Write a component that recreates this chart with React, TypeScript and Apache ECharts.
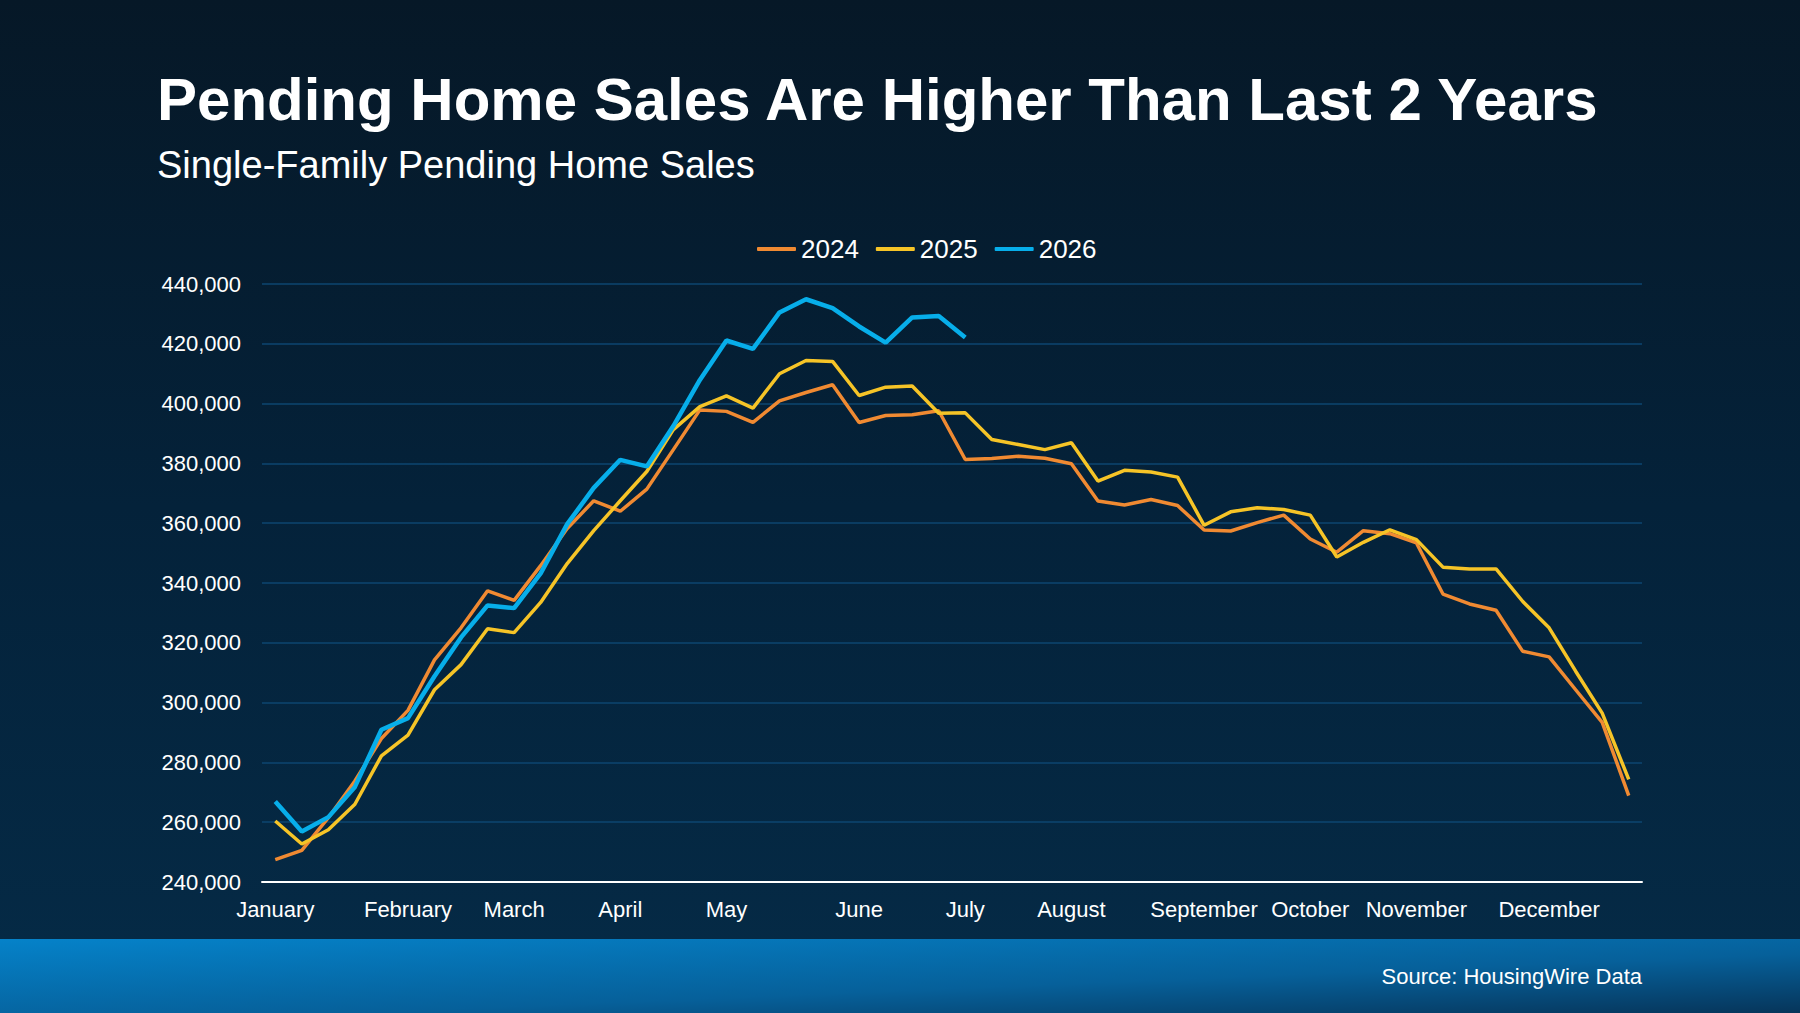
import { useEffect, useRef } from 'react'
import * as echarts from 'echarts'

// weekly points, one per category
const weeks = [
    'W1', 'W2', 'W3', 'W4', 'W5', 'W6', 'W7', 'W8', 'W9', 'W10', 'W11', 'W12', 'W13',
    'W14', 'W15', 'W16', 'W17', 'W18', 'W19', 'W20', 'W21', 'W22', 'W23', 'W24', 'W25', 'W26',
    'W27', 'W28', 'W29', 'W30', 'W31', 'W32', 'W33', 'W34', 'W35', 'W36', 'W37', 'W38', 'W39',
    'W40', 'W41', 'W42', 'W43', 'W44', 'W45', 'W46', 'W47', 'W48', 'W49', 'W50', 'W51', 'W52'
]

// month names shown under the week they start
const monthTicks: Record<number, string> = {
    0: 'January', 5: 'February', 9: 'March', 13: 'April', 17: 'May', 22: 'June',
    26: 'July', 30: 'August', 35: 'September', 39: 'October', 43: 'November', 48: 'December'
}

const sales2024 = [
    247500, 250600, 261500, 273800, 288000, 297400, 314300, 325000, 337400, 334200, 345800, 358200, 367500,
    364000, 371400, 384600, 397900, 397400, 393700, 400900, 403700, 406300, 393700, 396000, 396300, 397600,
    381300, 381600, 382400, 381700, 379900, 367400, 366100, 367900, 365900, 357700, 357400, 360200, 362700,
    354700, 350300, 357500, 356500, 353400, 336300, 333000, 330900, 317200, 315300, 304300, 293400, 268900
]

const sales2025 = [
    260400, 252700, 257500, 266000, 282200, 289100, 304300, 312700, 324700, 323400, 333500, 346500, 357500,
    367500, 377300, 391300, 399000, 402600, 398500, 410000, 414400, 414100, 402700, 405500, 405900, 396800,
    396900, 388000, 386300, 384600, 386900, 374100, 377700, 377100, 375400, 359300, 363800, 365200, 364600,
    362700, 348700, 353600, 357800, 354500, 345300, 344700, 344700, 333900, 325000, 310500, 296500, 274300
]

const sales2026 = [
    266900, 256900, 261700, 271800, 290900, 294800, 308800, 321800, 332500, 331600, 343200, 359700, 371800,
    381200, 379000, 392500, 407900, 421100, 418300, 430500, 434900, 431900, 425800, 420400, 428800, 429300,
    422100
]

const FONT = "'Liberation Sans', Arial, Helvetica, sans-serif"

export default function App() {
    const chartRef = useRef<HTMLDivElement>(null)

    useEffect(() => {
        document.body.style.margin = '0'
        if (!chartRef.current) return
        const chart = echarts.init(chartRef.current, undefined, { renderer: 'svg' })

        chart.setOption({
            animation: false,
            backgroundColor: new echarts.graphic.LinearGradient(0, 0, 0, 1, [
                { offset: 0, color: '#061827' },
                { offset: 0.5, color: '#04223a' },
                { offset: 1, color: '#052b47' }
            ]),
            textStyle: { fontFamily: FONT },
            graphic: [
                {
                    type: 'text', left: 157, top: 69,
                    style: {
                        text: 'Pending Home Sales Are Higher Than Last 2 Years',
                        fill: '#ffffff', font: `bold 60px ${FONT}`
                    }
                },
                {
                    type: 'text', left: 157, top: 146,
                    style: {
                        text: 'Single-Family Pending Home Sales',
                        fill: '#ffffff', font: `38px ${FONT}`
                    }
                },
                {
                    type: 'rect', left: 0, top: 939, z: -1,
                    shape: { width: 1800, height: 74 },
                    style: {
                        fill: new echarts.graphic.LinearGradient(0, 0, 1, 1, [
                            { offset: 0, color: '#0582c9' },
                            { offset: 0.6, color: '#06609a' },
                            { offset: 1, color: '#06355a' }
                        ])
                    }
                },
                {
                    type: 'text', right: 158, top: 965,
                    style: {
                        text: 'Source: HousingWire Data',
                        fill: '#ffffff', font: `22px ${FONT}`
                    }
                }
            ],
            legend: {
                left: 752, top: 231,
                icon: 'roundRect',
                itemWidth: 39, itemHeight: 4, itemGap: 17,
                textStyle: { color: '#ffffff', fontSize: 26, fontFamily: FONT }
            },
            grid: { left: 262, right: 158, top: 284, bottom: 131 },
            xAxis: {
                type: 'category',
                data: weeks,
                boundaryGap: true,
                axisLine: { lineStyle: { color: '#ffffff', width: 2 } },
                axisTick: { show: false },
                axisLabel: {
                    interval: (i: number) => monthTicks[i] !== undefined,
                    formatter: (_v: string, i: number) => monthTicks[i] ?? '',
                    color: '#ffffff', fontSize: 22, margin: 16, fontFamily: FONT
                },
                splitLine: { show: false }
            },
            yAxis: {
                type: 'value',
                min: 240000, max: 440000, interval: 20000,
                axisLine: { show: false },
                axisTick: { show: false },
                axisLabel: {
                    color: '#ffffff', fontSize: 22, margin: 21, fontFamily: FONT,
                    formatter: (v: number) => v.toLocaleString('en-US')
                },
                splitLine: { lineStyle: { color: '#0d4670', width: 1.5 } }
            },
            series: [
                {
                    name: '2024', type: 'line', data: sales2024, symbol: 'none',
                    itemStyle: { color: '#f08a32' },
                    lineStyle: { color: '#f08a32', width: 3.5 }
                },
                {
                    name: '2025', type: 'line', data: sales2025, symbol: 'none',
                    itemStyle: { color: '#f6c427' },
                    lineStyle: { color: '#f6c427', width: 3.5 }
                },
                {
                    name: '2026', type: 'line', data: sales2026, symbol: 'none',
                    itemStyle: { color: '#07aeea' },
                    lineStyle: { color: '#07aeea', width: 4.5 }
                }
            ]
        })

        return () => chart.dispose()
    }, [])

    return <div ref={chartRef} style={{ width: 1800, height: 1013 }} />
}
